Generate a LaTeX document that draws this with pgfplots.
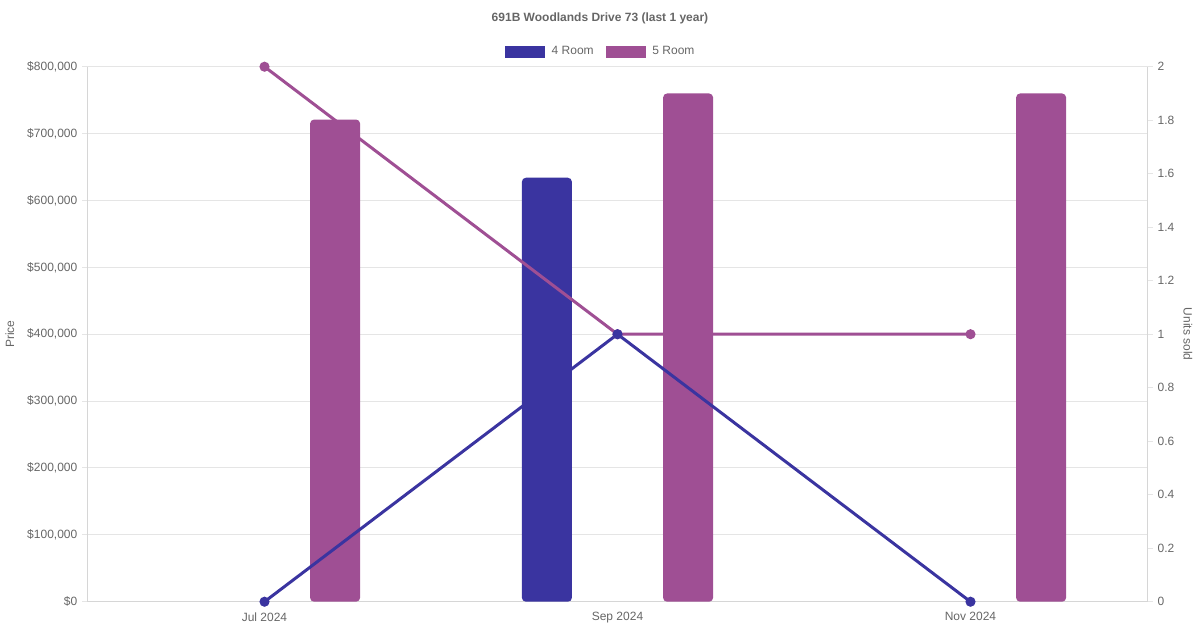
\documentclass[border=0pt]{standalone}
\usepackage{pgfplots}
\pgfplotsset{compat=1.18}
\usepackage{fontspec}
\setmainfont{Liberation Sans}
\definecolor{c4}{RGB}{58,52,160}
\definecolor{c5}{RGB}{159,79,148}
\definecolor{txt}{RGB}{102,102,102}
\definecolor{gridc}{RGB}{229,229,229}
\definecolor{axc}{RGB}{214,214,214}
\newcommand{\tfont}{\fontsize{9}{10.8}\selectfont}
\begin{document}
\begin{tikzpicture}[x=1pt,y=1pt]
\useasboundingbox (0,0) rectangle (900,472.5);
\node[font=\bfseries\tfont, text=txt] at (450,459) {691B Woodlands Drive 73 (last 1 year)};
\begin{axis}[
  at={(66pt,21.2pt)}, anchor=south west,
  scale only axis, width=794.25pt, height=401.25pt,
  xmin=-0.5, xmax=2.5, ymin=0, ymax=800000,
  scaled y ticks=false,
  axis x line*=bottom, axis y line*=left,
  xtick={0,1,2}, xticklabels={Jul 2024, Sep 2024, Nov 2024},
  major x tick style={draw=none},
  ytick={0,100000,200000,300000,400000,500000,600000,700000,800000},
  yticklabels={{\$0},{\$100,000},{\$200,000},{\$300,000},{\$400,000},{\$500,000},{\$600,000},{\$700,000},{\$800,000}},
  tick align=outside, major tick length=4.5pt,
  y tick style={draw=gridc, line width=0.75pt},
  ymajorgrids, grid style={draw=gridc, line width=0.75pt},
  axis line style={draw=axc, line width=0.75pt},
  tick label style={font=\tfont, text=txt},
  /pgf/number format/assume math mode=true,
  ylabel={Price}, ylabel style={font=\tfont, text=txt, at={(axis description cs:-0.0737,0.5)}, anchor=center},
  legend style={at={(axis description cs:0.4845,1.028)}, anchor=center, draw=none, fill=none,
    legend columns=2, font=\tfont, text=txt, /tikz/every even column/.append style={column sep=7pt}},
  legend cell align=left,
]
\addplot[ybar, bar shift=0pt, bar width=37.5pt, fill=c4, draw=none, rounded corners=3pt,
  legend image code/.code={\fill[c4, sharp corners] (0pt,-4.5pt) rectangle (30pt,4.5pt); \path (33pt,0pt);}]
  coordinates {(0.8,634000)};
\addlegendentry{4 Room}
\addplot[ybar, bar shift=0pt, bar width=37.5pt, fill=c5, draw=none, rounded corners=3pt,
  legend image code/.code={\fill[c5, sharp corners] (0pt,-4.5pt) rectangle (30pt,4.5pt); \path (33pt,0pt);}]
  coordinates {(0.2,721000) (1.2,760000) (2.2,760000)};
\addlegendentry{5 Room}
\end{axis}
\begin{axis}[
  at={(66pt,21.2pt)}, anchor=south west,
  scale only axis, width=794.25pt, height=401.25pt,
  xmin=-0.5, xmax=2.5, ymin=0, ymax=2,
  axis x line=none, axis y line*=right,
  ytick={0,0.2,0.4,0.6,0.8,1,1.2,1.4,1.6,1.8,2},
  tick align=outside, major tick length=4.5pt,
  y tick style={draw=gridc, line width=0.75pt},
  axis line style={draw=axc, line width=0.75pt},
  tick label style={font=\tfont, text=txt},
  /pgf/number format/assume math mode=true,
  ylabel={Units sold}, ylabel style={font=\tfont, text=txt, at={(axis description cs:1.0387,0.5)}, anchor=center, rotate=180},
]
\addplot[c5, line width=2.25pt, mark=*, mark size=2.6pt] coordinates {(0,2) (1,1) (2,1)};
\addplot[c4, line width=2.25pt, mark=*, mark size=2.6pt] coordinates {(0,0) (1,1) (2,0)};
\end{axis}
\end{tikzpicture}
\end{document}
